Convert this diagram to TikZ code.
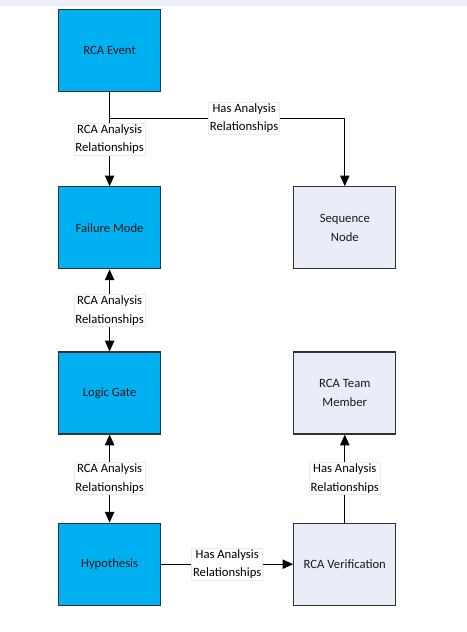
\documentclass[tikz,border=0pt]{standalone}
\usepackage{fontspec}
\setmainfont{Carlito}
\usetikzlibrary{positioning, arrows.meta, quotes}
\usepackage{xcolor}
\definecolor{rcablue}{HTML}{00B0F0}
\definecolor{rcagray}{HTML}{E9EDF7}
\definecolor{rcaline}{HTML}{333333}
\definecolor{rcastrip}{HTML}{EEF0F8}

\begin{document}
\begin{tikzpicture}[
    node distance=99pt,
    font=\fontsize{9.5}{14}\selectfont,
    box/.style={draw=rcaline, line width=0.9pt, minimum width=76.5pt, minimum height=61.5pt, align=center, text=black!90},
    core/.style={box, fill=rcablue},
    side/.style={box, fill=rcagray},
    rel/.style={line width=0.75pt, -{Triangle[length=8pt,width=7pt]}},
    both/.style={rel, {Triangle[length=8pt,width=7pt]}-{Triangle[length=8pt,width=7pt]}},
    every edge quotes/.style={fill=white, draw=black!8, inner sep=1pt, align=center, anchor=center}
]
    \node[core] (event) {RCA Event};
    \node[core, below=70.5pt of event] (failure) {Failure Mode};
    \node[core, below=61.5pt of failure] (gate) {Logic Gate};
    \node[core, below=66pt of gate] (hypo) {Hypothesis};
    \node[side, right=of failure] (sequence) {Sequence\\Node};
    \node[side, right=of gate] (team) {RCA Team\\Member};
    \node[side, right=of hypo] (verify) {RCA Verification};

    % page margins and top strip
    \useasboundingbox ([shift={(-43.5pt,6.75pt)}]event.north west) rectangle ([shift={(306.75pt,-467.25pt)}]event.north west);
    \fill[rcastrip] ([shift={(-43.5pt,6.75pt)}]event.north west) rectangle ([shift={(306.75pt,2.25pt)}]event.north west);

    \draw[rel] (event) edge["RCA Analysis\\Relationships"] (failure);
    \draw[both] (failure) edge["RCA Analysis\\Relationships"] (gate);
    \draw[both] (gate) edge["RCA Analysis\\Relationships"] (hypo);
    \draw[rel] (hypo) edge["Has Analysis\\Relationships"] (verify);
    \draw[rel] (verify) edge["Has Analysis\\Relationships"] (team);

    \coordinate[below=19.5pt of event.south] (split);
    \draw[rel] (event.south) -- (split) -| node[pos=0.286, fill=white, draw=black!8, inner sep=1pt, align=center] {Has Analysis\\Relationships} (sequence);
\end{tikzpicture}
\end{document}
